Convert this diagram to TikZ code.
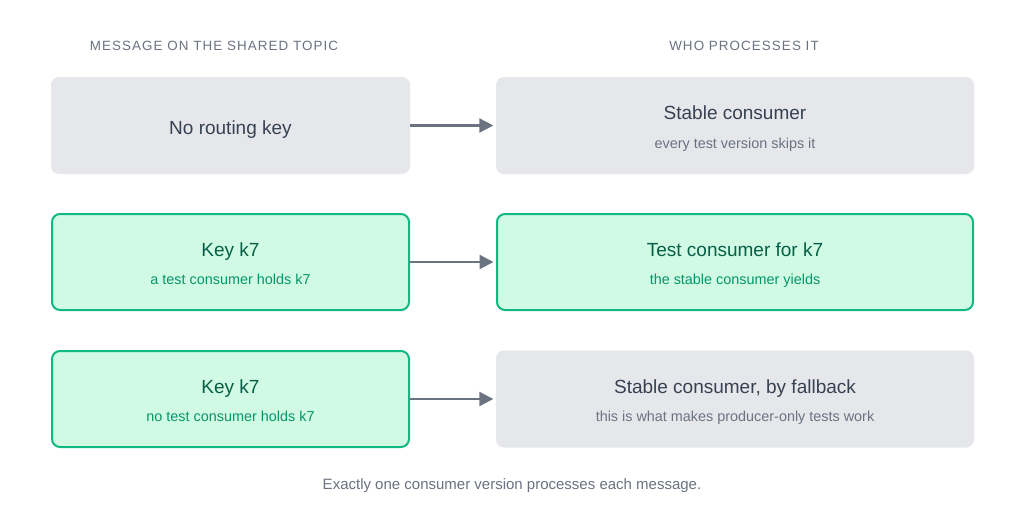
\documentclass[tikz,border=0pt]{standalone}
\usepackage{fontspec}
\setmainfont{Liberation Sans}
\usepackage{xcolor}
\usetikzlibrary{arrows.meta,positioning}

\definecolor{boxgrey}{HTML}{E5E7EB}
\definecolor{inkgrey}{HTML}{374151}
\definecolor{subgrey}{HTML}{6B7280}
\definecolor{boxgreen}{HTML}{D1FAE5}
\definecolor{edgegreen}{HTML}{10B981}
\definecolor{inkgreen}{HTML}{065F46}
\definecolor{subgreen}{HTML}{059669}

\newcommand{\boxtitle}[1]{{\fontsize{19}{22}\selectfont #1}}

\tikzset{
  msg/.style={rectangle,rounded corners=8pt,align=center,inner sep=0pt,
    font=\fontsize{14.4}{20}\selectfont,text height=21pt,text depth=4pt},
  twoline/.style={text height=49pt},
  greybox/.style={msg,fill=boxgrey,text=inkgrey},
  greenbox/.style={msg,fill=boxgreen,draw=edgegreen,line width=2pt,text=inkgreen},
  leftcol/.style={minimum width=359pt,minimum height=97pt},
  rightcol/.style={minimum width=478pt,minimum height=97pt},
  colhead/.style={text=subgrey,font=\fontsize{13.4}{16}\selectfont\addfontfeature{LetterSpace=8}},
  flow/.style={-{Triangle[length=14pt,width=14pt]},line width=2.2pt,draw=subgrey,shorten >=2.5pt}
}

\begin{document}
\begin{tikzpicture}[x=1pt,y=-1pt]
  \useasboundingbox (0,0) rectangle (1024,511);
  \fill[white] (0,0) rectangle (1024,511);

  % column headings
  \node[colhead] (headmsg) at (214,46) {MESSAGE ON THE SHARED TOPIC};
  \node[colhead] (headwho) at (744,46) {WHO PROCESSES IT};

  % messages
  \node[greybox,leftcol] (nokey) at (230.5,125.5) {\boxtitle{No routing key}};
  \node[greenbox,leftcol,twoline,minimum width=357pt,minimum height=96pt] (keyheld) at (230.5,262)
    {\boxtitle{Key k7}\\[8.3pt]\color{subgreen}a test consumer holds k7};
  \node[greenbox,leftcol,twoline,minimum width=357pt,minimum height=96pt] (keyfree) at (230.5,399)
    {\boxtitle{Key k7}\\[8.3pt]\color{subgreen}no test consumer holds k7};

  % consumers
  \node[greybox,rightcol,twoline] (stable) at (735,125.5)
    {\boxtitle{Stable consumer}\\[8.3pt]\color{subgrey}every test version skips it};
  \node[greenbox,rightcol,twoline,minimum width=476pt,minimum height=96pt] (testcons) at (735,262)
    {\boxtitle{Test consumer for k7}\\[8.3pt]\color{subgreen}the stable consumer yields};
  \node[greybox,rightcol,twoline] (fallback) at (735,399)
    {\boxtitle{Stable consumer, by fallback}\\[8.3pt]\color{subgrey}this is what makes producer-only tests work};

  \foreach \a/\b in {nokey/stable,keyheld/testcons,keyfree/fallback}
    \draw[flow] (\a.east) -- (\b.west);

  \node[text=subgrey,font=\fontsize{15}{18}\selectfont] (note) at (512,486)
    {Exactly one consumer version processes each message.};
\end{tikzpicture}
\end{document}
